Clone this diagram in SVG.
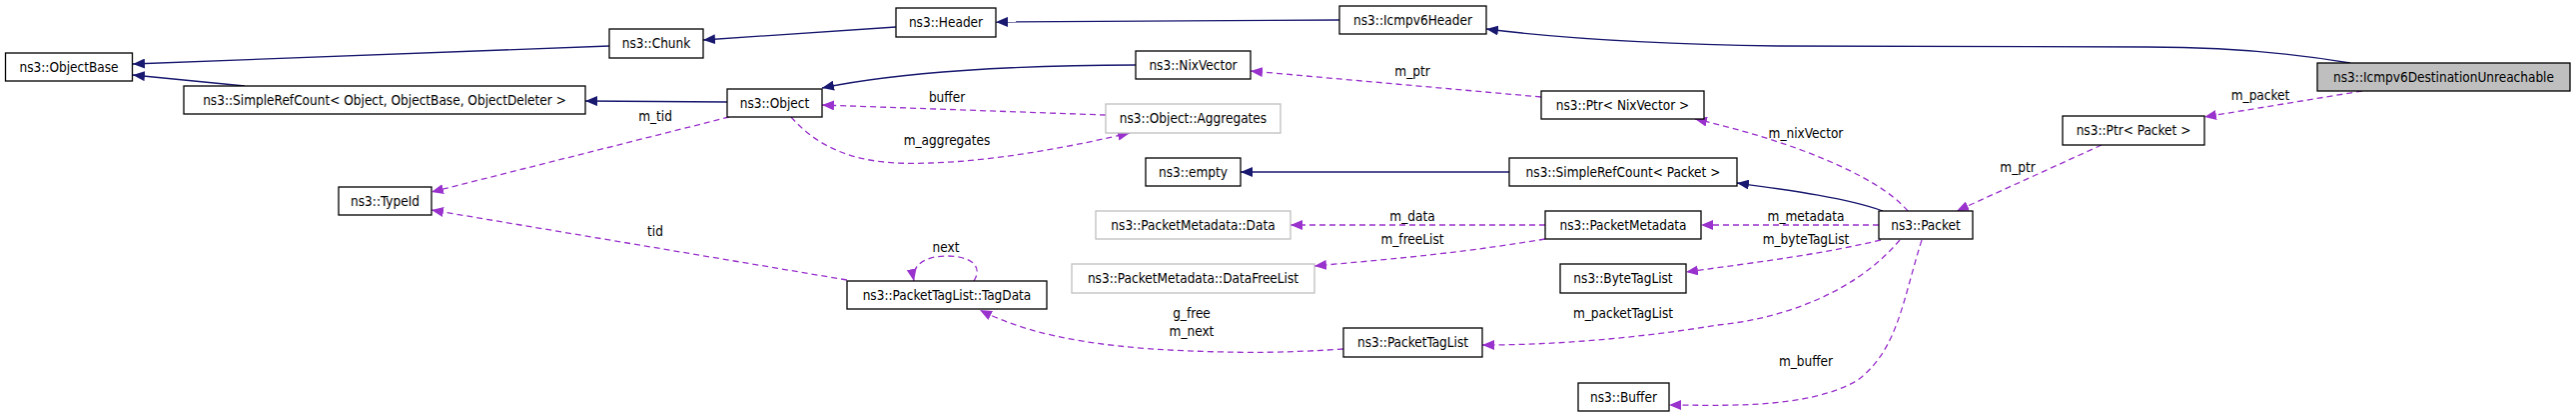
<svg xmlns="http://www.w3.org/2000/svg" width="2579" height="417" viewBox="0 0 2579 417">
<defs>
<marker id="an" viewBox="0 0 12 10" refX="12" refY="5" markerWidth="12" markerHeight="10" markerUnits="userSpaceOnUse" orient="auto"><path d="M0,0 L12,5 L0,10 z" fill="#191970"/></marker>
<marker id="ap" viewBox="0 0 12 10" refX="12" refY="5" markerWidth="12" markerHeight="10" markerUnits="userSpaceOnUse" orient="auto"><path d="M0,0 L12,5 L0,10 z" fill="#9a32cd"/></marker>
</defs>
<style>
text{font-family:"DejaVu Sans Condensed","DejaVu Sans",sans-serif;font-size:13.5px;fill:#000}
.n rect{fill:#fff;stroke:#000;stroke-width:1.3}
.g rect{fill:#fff;stroke:#bfbfbf;stroke-width:1.3}
.c text{text-anchor:middle}
.s{fill:none;stroke:#191970;stroke-width:1.3;marker-end:url(#an)}
.d{fill:none;stroke:#9a32cd;stroke-width:1.3;stroke-dasharray:6,4;marker-end:url(#ap)}
.l{text-anchor:middle}
</style>
<rect width="2579" height="417" fill="#fff"/>
<g id="edges">
<path class="s" d="M610,46 L133,64"/>
<path class="s" d="M245,86 L133,75"/>
<path class="s" d="M897,27 L704,40"/>
<path class="s" d="M1341,20 L997,22"/>
<path class="s" d="M2353,63 C2300,54 2230,47 2150,47 L1780,46 C1650,44 1560,38 1488,29"/>
<path class="s" d="M728,102 L586,101"/>
<path class="s" d="M1137,65 C1020,65 900,72 823,88"/>
<path class="s" d="M1511,172 L1242,172"/>
<path class="s" d="M1885,211 C1850,198 1790,190 1739,183"/>
<path class="d" d="M730,117 L432,192"/>
<path class="d" d="M848,280 L432,210"/>
<path class="d" d="M1107,115 L823,105"/>
<path class="d" d="M792,117 C830,160 880,165 931,163 C1000,161 1080,145 1131,133"/>
<path class="d" d="M1543,97 L1252,71"/>
<path class="d" d="M1910,211 C1880,175 1790,140 1697,119"/>
<path class="d" d="M2365,91 L2207,117"/>
<path class="d" d="M2104,145 L1959,211"/>
<path class="d" d="M1881,225 L1703,225"/>
<path class="d" d="M1547,225 L1292,225"/>
<path class="d" d="M1547,239 C1450,255 1380,260 1316,266"/>
<path class="d" d="M1883,240 C1820,255 1760,262 1688,272"/>
<path class="d" d="M1902,240 C1860,290 1790,318 1720,325 C1640,338 1560,345 1484,345"/>
<path class="d" d="M1924,240 C1905,300 1900,350 1860,380 C1810,410 1720,405 1671,405"/>
<path class="d" d="M975,281 C985,265 970,256 948,256 C925,256 912,266 915,281"/>
<path class="d" d="M1345,349 C1300,352 1260,353 1227,352 C1120,350 1040,340 981,310"/>
<text class="l" x="656" y="121">m_tid</text>
<text class="l" x="656" y="236">tid</text>
<text class="l" x="948" y="102">buffer</text>
<text class="l" x="948" y="145">m_aggregates</text>
<text class="l" x="1414" y="76">m_ptr</text>
<text class="l" x="1808" y="138">m_nixVector</text>
<text class="l" x="2263" y="100">m_packet</text>
<text class="l" x="2020" y="172">m_ptr</text>
<text class="l" x="1808" y="221">m_metadata</text>
<text class="l" x="1414" y="221">m_data</text>
<text class="l" x="1414" y="244">m_freeList</text>
<text class="l" x="1808" y="244">m_byteTagList</text>
<text class="l" x="1625" y="318">m_packetTagList</text>
<text class="l" x="1808" y="366">m_buffer</text>
<text class="l" x="947" y="252">next</text>
<text class="l" x="1193" y="318">g_free</text>
<text class="l" x="1193" y="336">m_next</text>
</g>
<g id="ObjectBase" class="n c"><rect x="5.5" y="53" width="127" height="28"/><text x="69" y="72">ns3::ObjectBase</text></g>
<g id="Chunk" class="n c"><rect x="610" y="29" width="94" height="29"/><text x="657" y="48">ns3::Chunk</text></g>
<g id="SimpleRefCountObject" class="n c"><rect x="184" y="86" width="402" height="28"/><text x="385" y="105">ns3::SimpleRefCount&lt; Object, ObjectBase, ObjectDeleter &gt;</text></g>
<g id="Object" class="n c"><rect x="728" y="89" width="95" height="28"/><text x="775.5" y="108">ns3::Object</text></g>
<g id="TypeId" class="n c"><rect x="339" y="187" width="93" height="28"/><text x="385.5" y="206">ns3::TypeId</text></g>
<g id="Header" class="n c"><rect x="897" y="8" width="100" height="29"/><text x="947" y="27">ns3::Header</text></g>
<g id="Icmpv6Header" class="n c"><rect x="1341" y="6" width="147" height="28"/><text x="1414.5" y="25">ns3::Icmpv6Header</text></g>
<g id="NixVector" class="n c"><rect x="1137" y="51" width="115" height="28"/><text x="1194.5" y="70">ns3::NixVector</text></g>
<g id="Aggregates" class="g c"><rect x="1107" y="104" width="175" height="29"/><text x="1194.5" y="123">ns3::Object::Aggregates</text></g>
<g id="empty" class="n c"><rect x="1147" y="158" width="95" height="28"/><text x="1194.5" y="177">ns3::empty</text></g>
<g id="SimpleRefCountPacket" class="n c"><rect x="1511" y="158" width="228" height="28"/><text x="1625" y="177">ns3::SimpleRefCount&lt; Packet &gt;</text></g>
<g id="PacketMetadataData" class="g c"><rect x="1097" y="211" width="195" height="28"/><text x="1194.5" y="230">ns3::PacketMetadata::Data</text></g>
<g id="PacketMetadata" class="n c"><rect x="1547" y="211" width="156" height="28"/><text x="1625" y="230">ns3::PacketMetadata</text></g>
<g id="DataFreeList" class="g c"><rect x="1073" y="264" width="243" height="29"/><text x="1194.5" y="283">ns3::PacketMetadata::DataFreeList</text></g>
<g id="ByteTagList" class="n c"><rect x="1562" y="264" width="126" height="29"/><text x="1625" y="283">ns3::ByteTagList</text></g>
<g id="TagData" class="n c"><rect x="848" y="281" width="200" height="28"/><text x="948" y="300">ns3::PacketTagList::TagData</text></g>
<g id="PacketTagList" class="n c"><rect x="1345" y="328" width="139" height="29"/><text x="1414.5" y="347">ns3::PacketTagList</text></g>
<g id="Buffer" class="n c"><rect x="1580" y="383" width="91" height="28"/><text x="1625.5" y="402">ns3::Buffer</text></g>
<g id="PtrNixVector" class="n c"><rect x="1543" y="91" width="163" height="28"/><text x="1624.5" y="110">ns3::Ptr&lt; NixVector &gt;</text></g>
<g id="Icmpv6DestinationUnreachable" class="c"><rect x="2320" y="63" width="253" height="28" fill="#bfbfbf" stroke="#000" stroke-width="1.3"/><text x="2446.5" y="82">ns3::Icmpv6DestinationUnreachable</text></g>
<g id="PtrPacket" class="n c"><rect x="2065" y="116" width="142" height="29"/><text x="2136" y="135">ns3::Ptr&lt; Packet &gt;</text></g>
<g id="Packet" class="n c"><rect x="1881" y="211" width="94" height="28"/><text x="1928" y="230">ns3::Packet</text></g>
</svg>
